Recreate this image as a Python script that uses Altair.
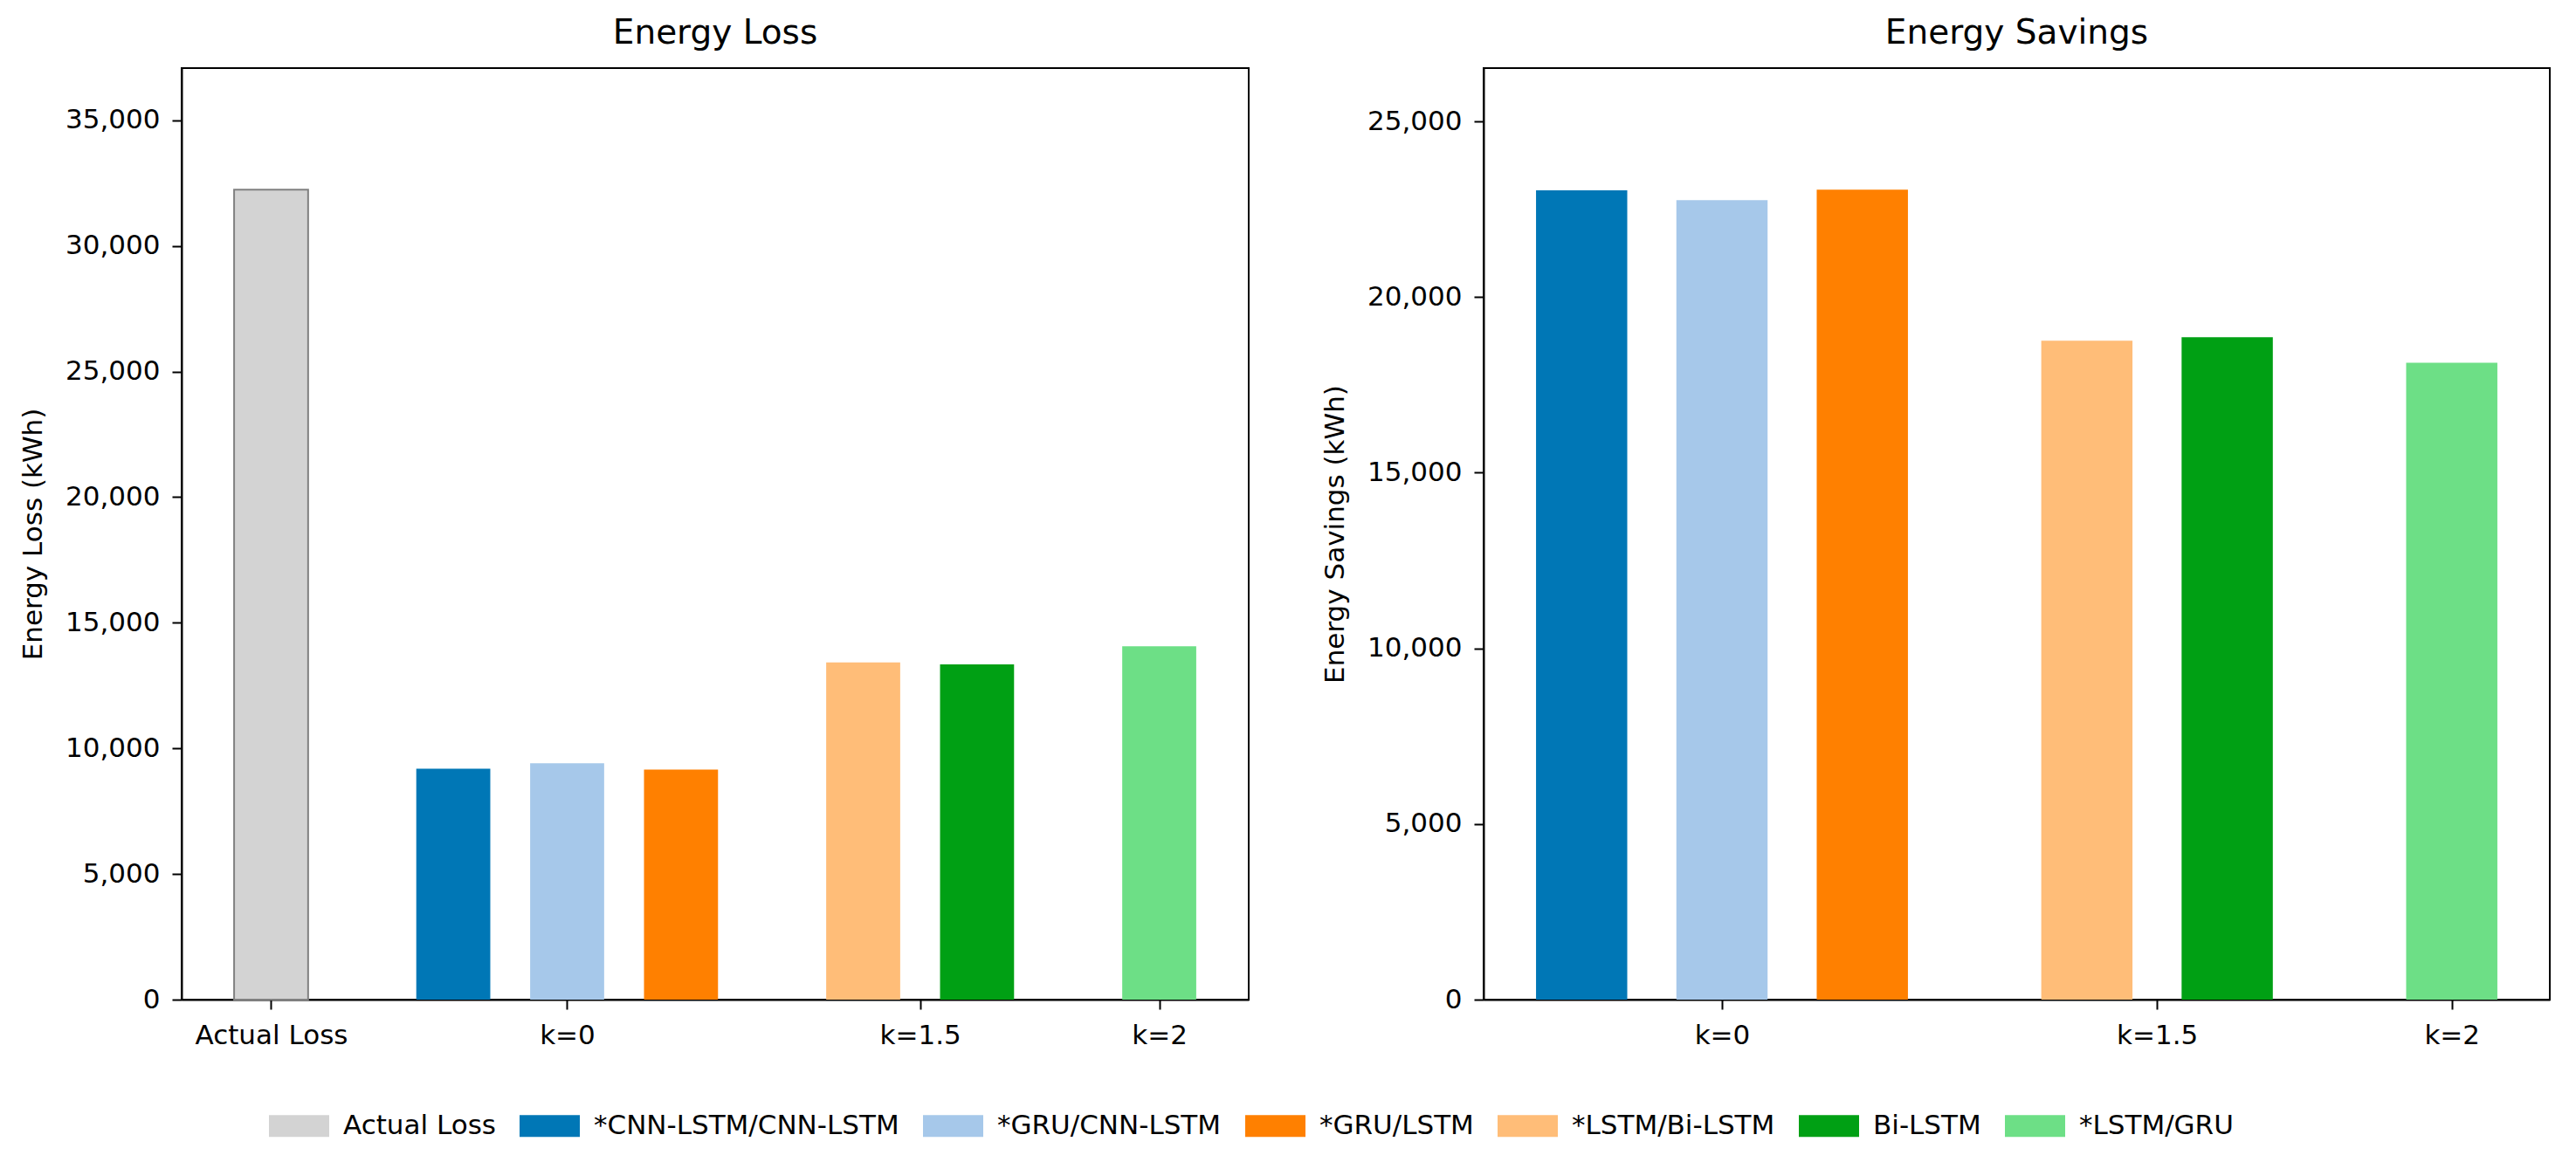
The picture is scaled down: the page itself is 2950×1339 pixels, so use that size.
import altair as alt
import pandas as pd

# ---- data ----
models = ["Actual Loss", "*CNN-LSTM/CNN-LSTM", "*GRU/CNN-LSTM", "*GRU/LSTM",
          "*LSTM/Bi-LSTM", "Bi-LSTM", "*LSTM/GRU"]
colors = ["#d3d3d3", "#0077b6", "#a6c8ea", "#ff8000", "#ffbd78", "#00a014", "#6ddf86"]

loss_models = models
loss_groups = ["Actual Loss", "k=0", "k=0", "k=0", "k=1.5", "k=1.5", "k=2"]
loss_values = [32240, 9190, 9410, 9160, 13420, 13340, 14060]

sav_models = models[1:]
sav_groups = ["k=0", "k=0", "k=0", "k=1.5", "k=1.5", "k=2"]
sav_values = [23040, 22760, 23060, 18760, 18860, 18130]

FONT = "DejaVu Sans"
BAR_W = 0.65


def positions(groups):
    pos, p = [], 0.0
    for i, g in enumerate(groups):
        if i > 0:
            p += 1.0 if g == groups[i - 1] else 1.6
        pos.append(round(p, 3))
    return pos


def group_ticks(groups, pos):
    labels, ticks = [], []
    for g in groups:
        if g not in labels:
            labels.append(g)
    for g in labels:
        ps = [p for p, gg in zip(pos, groups) if gg == g]
        ticks.append(round(sum(ps) / len(ps), 3))
    return labels, ticks


def label_expr(ticks, labels):
    s = ""
    for t, l in zip(ticks, labels):
        s += f"abs(datum.value - {t}) < 0.01 ? '{l}' : "
    return s + "''"


def panel(mods, groups, vals, title, ytitle, ytick_max, width, height):
    pos = positions(groups)
    labels, ticks = group_ticks(groups, pos)
    lo, hi = min(pos) - BAR_W / 2, max(pos) + BAR_W / 2
    m = 0.05 * (hi - lo)
    ymax = max(vals) * 1.15
    df = pd.DataFrame({"model": mods, "group": groups, "value": vals, "pos": pos})
    base = alt.Chart(df).transform_calculate(
        x0=f"datum.pos - {BAR_W / 2}", x1=f"datum.pos + {BAR_W / 2}"
    )
    bars = base.mark_bar(strokeWidth=2, orient="vertical").encode(
        x=alt.X("x0:Q", scale=alt.Scale(domain=[lo - m, hi + m], nice=False, zero=False),
                axis=alt.Axis(values=ticks, labelExpr=label_expr(ticks, labels), title=None,
                              labelOverlap=False, labelFlush=False, labelPadding=15)),
        x2="x1:Q",
        y=alt.Y("value:Q", scale=alt.Scale(domain=[0, ymax], nice=False),
                axis=alt.Axis(values=list(range(0, ytick_max + 1, 5000)), format=",d",
                              title=ytitle, titlePadding=20, labelPadding=14)),
        y2=alt.datum(0),
        color=alt.Color("model:N", scale=alt.Scale(domain=models, range=colors),
                        legend=alt.Legend(title=None, orient="none", direction="horizontal",
                                          columns=7, legendX=100, legendY=1177)),
        stroke=alt.condition("datum.model == 'Actual Loss'", alt.value("#808080"),
                             alt.value("transparent")),
    )
    return bars.properties(width=width, height=height, title=title)


left = panel(loss_models, loss_groups, loss_values, "Energy Loss", "Energy Loss (kWh)",
             35000, 1222, 1067)
right = panel(sav_models, sav_groups, sav_values, "Energy Savings", "Energy Savings (kWh)",
              25000, 1221, 1067)

chart = alt.hconcat(left, right, spacing=81).resolve_scale(
    x="independent", y="independent", color="shared"
).properties(
    padding={"left": 13, "top": 10, "right": 5, "bottom": 5}
).configure_view(
    stroke="black", strokeWidth=2
).configure_axis(
    domainColor="black", domainWidth=2, tickColor="black", tickWidth=2, tickSize=11,
    labelFontSize=31, labelColor="black", labelFont=FONT,
    titleFontSize=31, titleFontWeight="normal", titleColor="black", titleFont=FONT,
    grid=False,
).configure_title(
    fontSize=39, font=FONT, fontWeight="normal", color="black", offset=20
).configure_legend(
    labelFontSize=31, labelFont=FONT, labelColor="black",
    symbolType="M-1,-0.36L1,-0.36L1,0.36L-1,0.36Z", symbolSize=4761,
    symbolStrokeWidth=0, symbolOpacity=1, labelOffset=16, columnPadding=27,
    padding=0, labelLimit=0,
)

chart.save("out.html", embed_options={"renderer": "svg", "actions": False})
